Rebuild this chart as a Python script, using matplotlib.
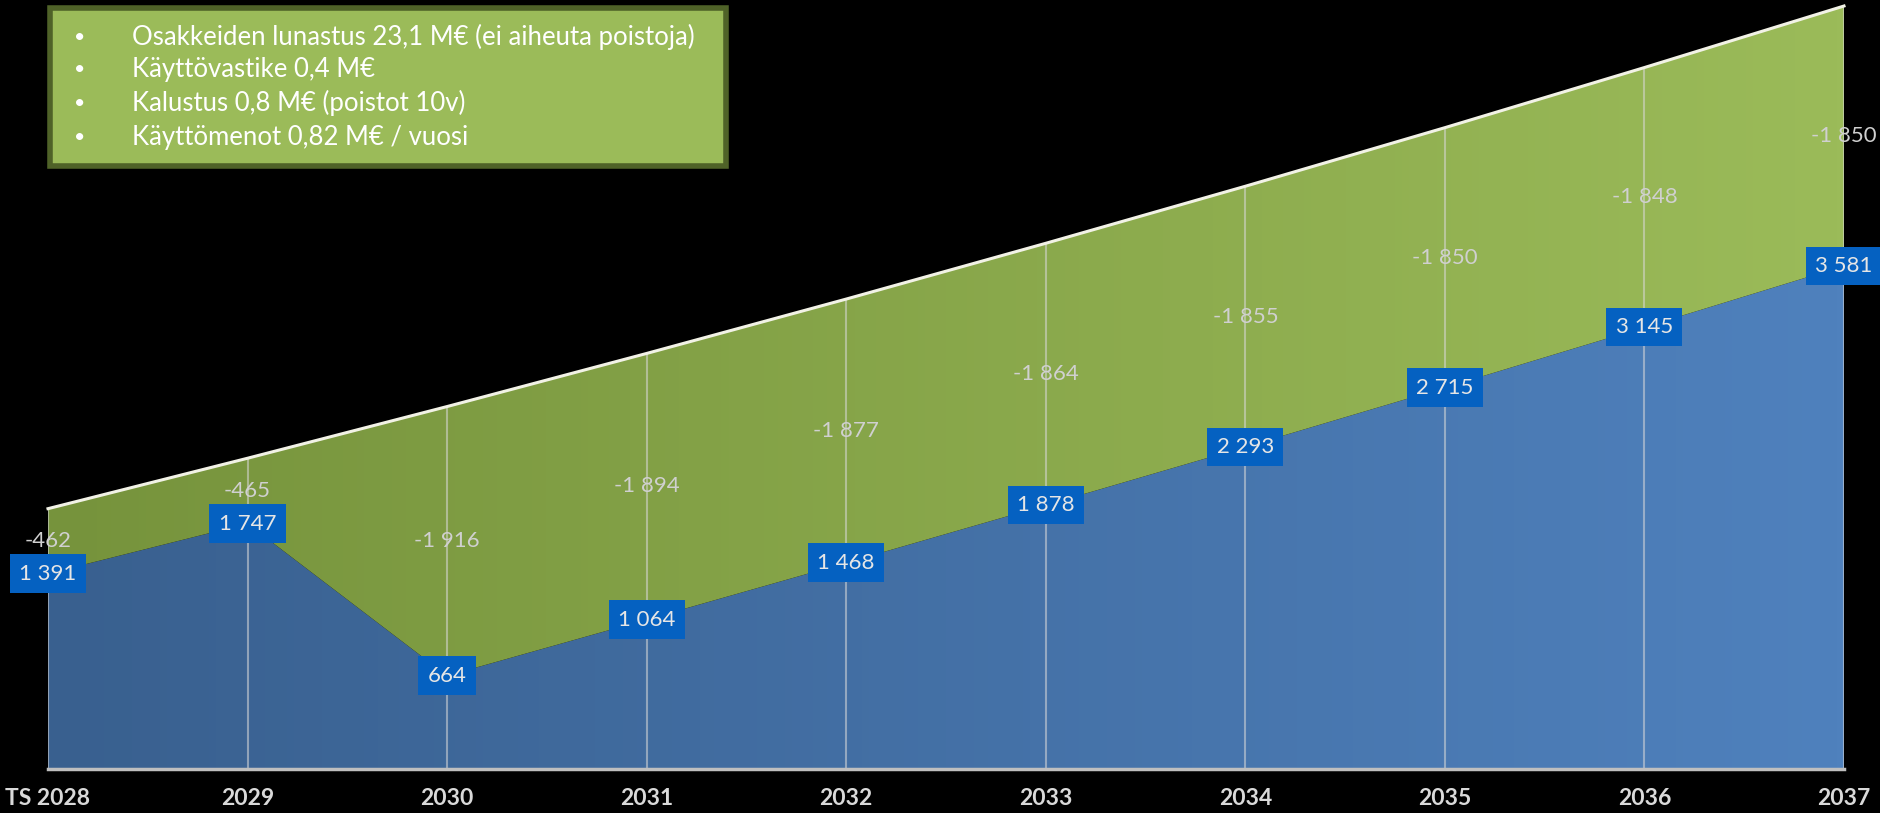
import numpy as np
import matplotlib
matplotlib.use("Agg")
import matplotlib.pyplot as plt
from matplotlib.colors import LinearSegmentedColormap
from matplotlib.patches import Rectangle

# ---- data ----
years = ['TS 2028', '2029', '2030', '2031', '2032', '2033', '2034', '2035', '2036', '2037']
result = [1391, 1747, 664, 1064, 1468, 1878, 2293, 2715, 3145, 3581]
costs = [-462, -465, -1916, -1894, -1877, -1864, -1855, -1850, -1848, -1850]
notes = ['Osakkeiden lunastus 23,1 M€ (ei aiheuta poistoja)',
         'Käyttövastike 0,4 M€',
         'Kalustus 0,8 M€ (poistot 10v)',
         'Käyttömenot 0,82 M€ / vuosi']

FONT = ['Lato', 'DejaVu Sans']
plt.rcParams['font.family'] = FONT

def fmt(v):
    return f"{v:,}".replace(',', ' ')

x = np.arange(len(years))
res = np.array(result, dtype=float)
top = res + (-np.array(costs, dtype=float))

W, H = 1881, 813
fig = plt.figure(figsize=(W / 100, H / 100), dpi=100, facecolor='black')
ax = fig.add_axes([48 / W, 1 - 769 / H, (1844 - 48) / W, (769 - 6) / H])
ax.set_facecolor('black')
ymax = top.max()
ax.set_xlim(0, len(years) - 1)
ax.set_ylim(0, ymax)

grad = np.linspace(0, 1, 256).reshape(1, -1)
blue_cmap = LinearSegmentedColormap.from_list('b', ['#39608f', '#4f81bd'])
green_cmap = LinearSegmentedColormap.from_list('g', ['#76933c', '#9bbb59'])

pb = ax.fill_between(x, 0, res, facecolor='none', edgecolor='none')
pg = ax.fill_between(x, res, top, facecolor='none', edgecolor='none')
for poly, cmap in ((pb, blue_cmap), (pg, green_cmap)):
    im = ax.imshow(grad, cmap=cmap, aspect='auto', extent=[0, len(years) - 1, 0, ymax],
                   origin='lower', zorder=1)
    path = poly.get_paths()[0]
    im.set_clip_path(path, transform=ax.transData)

# gridlines
ax.vlines(x, 0, top, colors='#d8d8d8', linewidth=1.5, alpha=0.55, zorder=2)
# top line
ax.plot(x, top, color='#f2f2e6', linewidth=2.2, zorder=3, clip_on=False)
# baseline
ax.plot([0, len(years) - 1], [0, 0], color='#bfbfbf', linewidth=2.5, zorder=3, clip_on=False)

for spine in ax.spines.values():
    spine.set_visible(False)
ax.set_yticks([])
ax.set_xticks(x)
ax.set_xticklabels(years, fontsize=16.5, fontweight='bold', color='#d9d9d9')
ax.tick_params(axis='x', length=0, pad=14)

# data labels
for xi, r, c in zip(x, res, costs):
    ax.text(xi, r + (-c) / 2, fmt(c), ha='center', va='center', fontsize=16,
            color='#d0d0d0', zorder=5, clip_on=False)
    ax.text(xi, r, fmt(int(r)), ha='center', va='center', fontsize=16,
            color='#e6e6e6', zorder=6, clip_on=False,
            bbox=dict(boxstyle='square,pad=0.42', facecolor='#0561c1', edgecolor='none'))

# note box
bx0, by0, bx1, by1 = 50, 8, 726, 166
fig.patches.append(Rectangle((bx0 / W, 1 - by1 / H), (bx1 - bx0) / W, (by1 - by0) / H,
                             transform=fig.transFigure, facecolor='#9bbb59',
                             edgecolor='#4f6228', linewidth=4, zorder=10))
line_y = [37, 70, 103, 137]
for ly, t in zip(line_y, notes):
    fig.text(80 / W, 1 - ly / H, '•', ha='center', va='center', fontsize=14,
             color='white', zorder=11)
    fig.text(132 / W, 1 - ly / H, t, ha='left', va='center', fontsize=18.5,
             color='white', zorder=11)

fig.savefig('out.png', dpi=100, facecolor='black')
